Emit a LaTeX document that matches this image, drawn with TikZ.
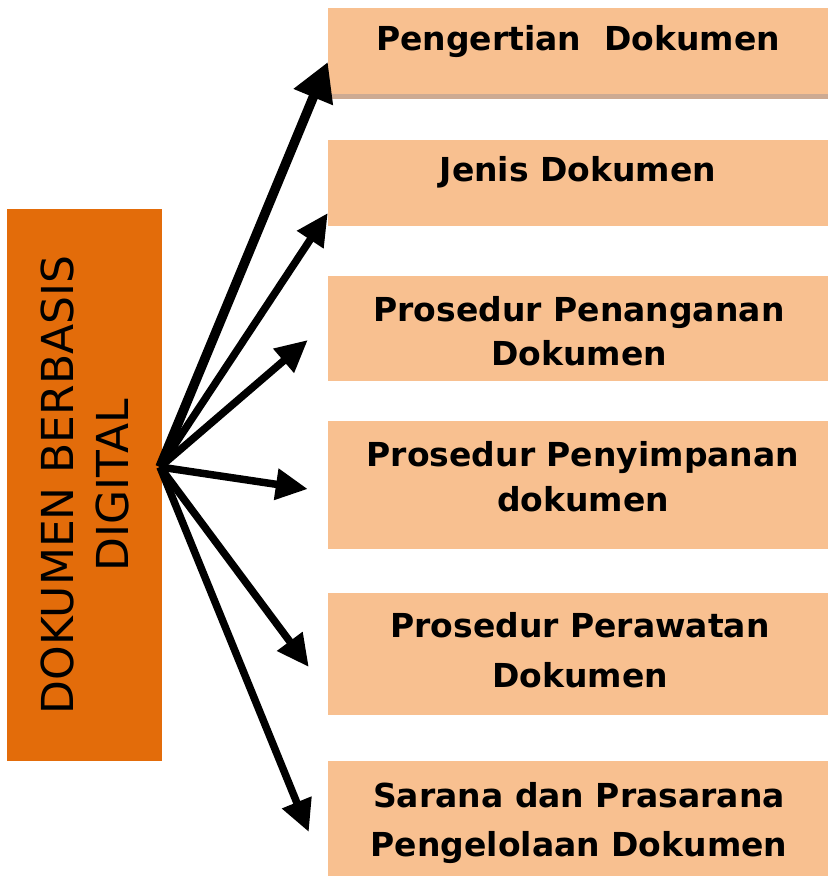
\documentclass[tikz,border=0pt]{standalone}
\usepackage{fontspec}
\setmainfont{DejaVu Sans}
\usetikzlibrary{arrows.meta,calc}
\definecolor{hubfill}{HTML}{E36C0A}
\definecolor{itemfill}{HTML}{F8C090}
\definecolor{shadowtan}{HTML}{CDAA92}
\tikzset{
  hubbox/.style={fill=hubfill, rotate=90, minimum width=552pt, minimum height=155pt,
    inner sep=0pt, align=center, font=\fontsize{44}{55}\selectfont},
  itembox/.style={fill=itemfill, minimum width=500pt, inner sep=0pt},
  itemtext/.style={align=center, inner sep=0pt, font=\bfseries\fontsize{33}{44}\selectfont},
  spoke/.style={line width=7.5pt, -{Triangle[length=32pt,width=30pt]}},
  bigspoke/.style={line width=9.5pt, -{Triangle[length=38pt,width=40pt]}}
}
\begin{document}
\begin{tikzpicture}[x=1pt,y=-1pt]
  \useasboundingbox (0,0) rectangle (828,876);
  \node[hubbox] (hub) at (84.5,485) {DOKUMEN BERBASIS\\DIGITAL};
  \coordinate (src) at ($(hub.center)+(75.5,-18)$);
  % boxes on the right
  \foreach \n/\a/\b in {1/8/94,2/140/226,3/276/381,4/421/549,5/593/715,6/761/876}
    \node[itembox, minimum height={(\b-\a)*1pt}] (box\n) at (578,{(\a+\b)/2}) {};
  \fill[shadowtan] (box1.south west) rectangle ++(500,5);
  \node[itemtext] (lbl1) at (578,42) {Pengertian\ \ Dokumen};
  \node[itemtext] (lbl2) at (578,172.5) {Jenis Dokumen};
  \node[itemtext] (lbl3) at (579,331) {Prosedur Penanganan\\Dokumen};
  \node[itemtext] (lbl4) at (583,477) {Prosedur Penyimpanan\\[1pt]dokumen};
  \node[itemtext] (lbl5) at (580,650.5) {Prosedur Perawatan\\[6pt]Dokumen};
  \node[itemtext] (lbl6) at (579,823) {Sarana dan Prasarana\\[5pt]Pengelolaan Dokumen};
  % arrows
  \coordinate (tip1) at ($(box1.west)+(0,11)$);
  \draw[bigspoke] (src) -- (tip1);
  \foreach \n/\dx/\dy in {2/0/30,3/-20/11.5,4/-20/4,5/-19/13,6/-19/13.5} {
    \coordinate (tip\n) at ($(box\n.west)+(\dx,\dy)$);
    \draw[spoke] (src) -- (tip\n);
  }
\end{tikzpicture}
\end{document}
